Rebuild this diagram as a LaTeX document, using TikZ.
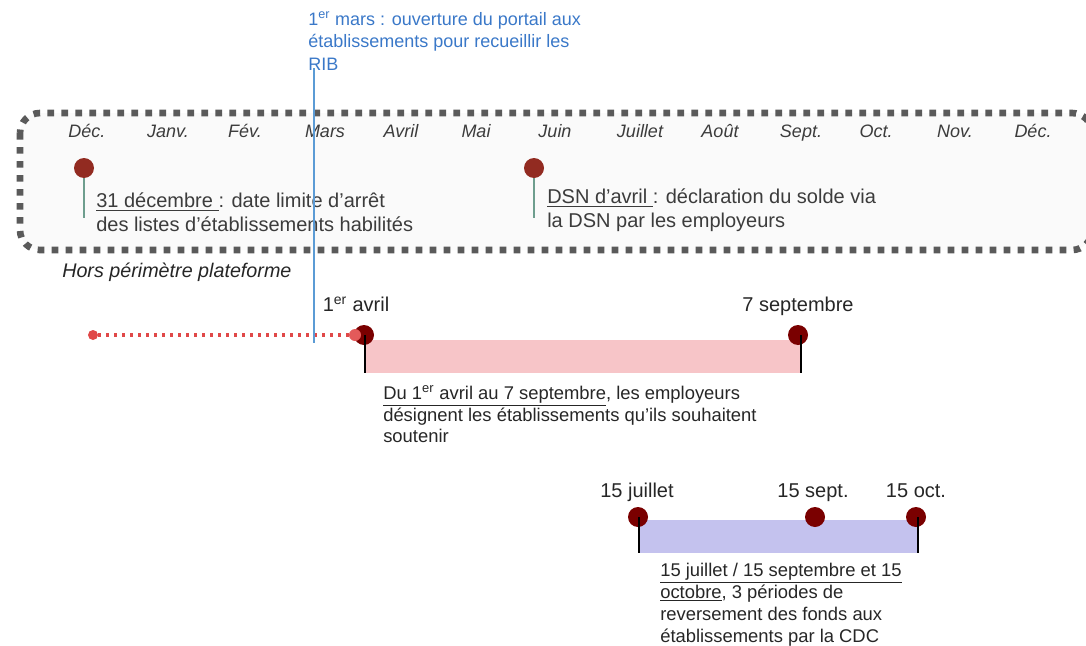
\documentclass[tikz,border=0pt]{standalone}
\usepackage{fontspec}
\setmainfont{Liberation Sans}
\definecolor{pinred}{HTML}{922B21}
\definecolor{pindark}{HTML}{7A0000}
\definecolor{pinline}{HTML}{6E9E8E}
\definecolor{bluetext}{HTML}{3A78C8}
\definecolor{blueline}{HTML}{5B9BD5}
\definecolor{txtgray}{HTML}{3C3C3C}
\definecolor{boxgray}{HTML}{5A5A5A}
\definecolor{boxfill}{HTML}{FAFAFA}
\definecolor{dotred}{HTML}{E04848}
\definecolor{pinkfill}{HTML}{F7C5C8}
\definecolor{purplefill}{HTML}{C4C2EE}
\begin{document}
\begin{tikzpicture}[x=0.75pt,y=-0.75pt,
  month/.style={font=\fontsize{13.5}{16}\selectfont\itshape,text=txtgray,anchor=base,inner sep=0pt},
  bigtxt/.style={font=\fontsize{15}{18}\selectfont,text=txtgray,align=left,anchor=north west,inner sep=0pt},
  midtxt/.style={font=\fontsize{13.8}{16.4}\selectfont,text=black!85,align=left,anchor=north west,inner sep=0pt},
  datelabel/.style={font=\fontsize{15}{18}\selectfont,text=black!85,anchor=base,inner sep=0pt},
  pinA/.style={circle,fill=pinred,minimum size=15pt,inner sep=0pt},
  pinB/.style={circle,fill=pindark,minimum size=15pt,inner sep=0pt},
  pinstem/.style={draw=pinline,line width=1.1pt},
  blackstem/.style={draw=black,line width=1.1pt},
  dotbox/.style={draw=boxgray,fill=boxfill,line width=5pt,dash pattern=on 5pt off 5.5pt,rounded corners=15pt},
  smalldot/.style={circle,fill=dotred,inner sep=0pt,minimum size=7.5pt},
  reddotted/.style={draw=dotred,line width=2.3pt,dash pattern=on 2.3pt off 3.7pt}
]
\useasboundingbox (0,0) rectangle (1086,646);

% dotted box
\draw[dotbox] (20,113) rectangle (1092,250);

% months
\node[month] (m1) at (87,137) {Déc.};
\node[month] (m2) at (168,137) {Janv.};
\node[month] (m3) at (245,137) {Fév.};
\node[month] (m4) at (325,137) {Mars};
\node[month] (m5) at (401,137) {Avril};
\node[month] (m6) at (476,137) {Mai};
\node[month] (m7) at (555,137) {Juin};
\node[month] (m8) at (640,137) {Juillet};
\node[month] (m9) at (720,137) {Août};
\node[month] (m10) at (801,137) {Sept.};
\node[month] (m11) at (876,137) {Oct.};
\node[month] (m12) at (955,137) {Nov.};
\node[month] (m13) at (1033,137) {Déc.};

% pins in box
\coordinate (s1e) at (84,218);
\coordinate (s2e) at (534,218);
\node[pinA] (p1) at (84,168) {};
\node[pinA] (p2) at (534,168) {};
\draw[pinstem] (p1.south) -- (s1e);
\draw[pinstem] (p2.south) -- (s2e);

\node[bigtxt] (t1) at (96,193) {\underline{31 décembre\ }: date limite d’arrêt\\des listes d’établissements habilités};
\node[bigtxt] (t2) at (547,189) {\underline{DSN d’avril\ }: déclaration du solde via\\la DSN par les employeurs};

% hors perimetre
\node[font=\fontsize{14.8}{18}\selectfont\itshape,text=black!85,anchor=base west,inner sep=0pt] (hp) at (62,277) {Hors périmètre plateforme};

% blue annotation
\node[font=\fontsize{13.5}{17}\selectfont,text=bluetext,align=left,anchor=north west,inner sep=0pt] (bt) at (308,11) {1\textsuperscript{er} mars : ouverture du portail aux\\établissements pour recueillir les\\RIB};

% first period
\fill[pinkfill] (365,340) rectangle (801,373);
\coordinate (a1e) at (365,373);
\coordinate (a2e) at (801,373);
\node[smalldot] (rd0) at (93,335) {};
\node[pinB] (a1) at (364,335) {};
\node[pinB] (a2) at (798,335) {};
\draw[blackstem] (365,335) -- (a1e);
\draw[blackstem] (801,335) -- (a2e);
\node[smalldot,minimum size=9pt,fill=dotred!90] (rd1) at (355,335) {};
\draw[reddotted] (rd0) -- (rd1);

\node[datelabel] (l1) at (356,311) {1\textsuperscript{er} avril};
\node[datelabel] (l2) at (798,311) {7 septembre};

\node[midtxt] (t3) at (383,385) {\underline{Du 1\textsuperscript{er} avril au 7 septembre}, les employeurs\\désignent les établissements qu’ils souhaitent\\soutenir};

% second period
\fill[purplefill] (639,520) rectangle (918,553);
\coordinate (b1e) at (639,553);
\coordinate (b3e) at (918,553);
\node[pinB] (b1) at (638,517) {};
\node[pinB] (b2) at (815,517) {};
\node[pinB] (b3) at (916,517) {};
\draw[blackstem] (639,517) -- (b1e);
\draw[blackstem] (918,517) -- (b3e);

\node[datelabel] (l3) at (637,497) {15 juillet};
\node[datelabel] (l4) at (813,497) {15 sept.};
\node[datelabel] (l5) at (916,497) {15 oct.};

\node[midtxt] (t4) at (660,563) {\underline{15 juillet / 15 septembre et 15}\\\underline{octobre}, 3 périodes de\\reversement des fonds aux\\établissements par la CDC};

% blue line on top
\coordinate (bl1) at (314,68);
\coordinate (bl2) at (314,343);
\draw[draw=blueline,line width=0.8pt] (bl1) -- (bl2);
\end{tikzpicture}
\end{document}
